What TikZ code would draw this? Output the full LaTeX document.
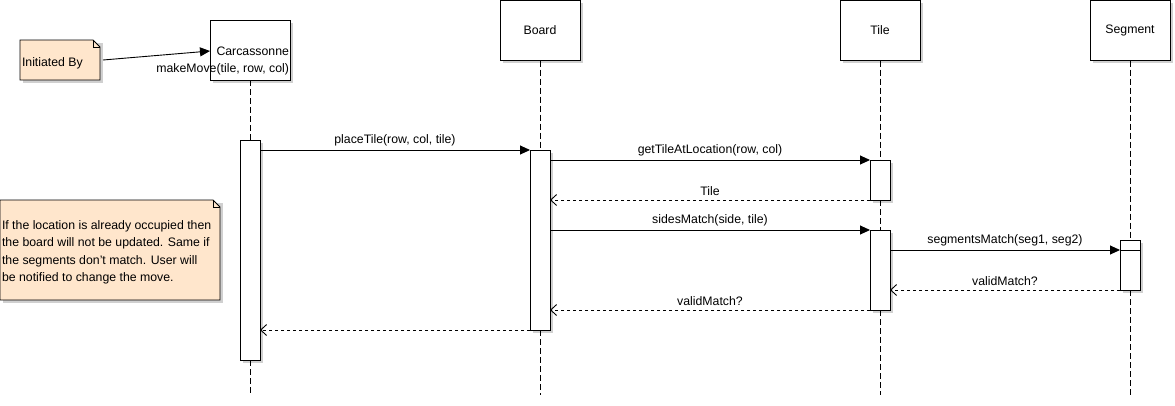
\documentclass[tikz,border=0pt]{standalone}
\usepackage{fontspec}
\setmainfont{Liberation Sans}
\usetikzlibrary{arrows.meta,calc}
\definecolor{notefill}{HTML}{FFE6CC}
\definecolor{shadowgray}{HTML}{D0D0D0}
\tikzset{
  every node/.style={font=\fontsize{12.3}{14}\selectfont, inner sep=0pt, outer sep=0pt},
  head/.style={draw=black, fill=white, line width=0.9pt, minimum width=80pt, minimum height=60pt, inner sep=0pt},
  act/.style={draw=black, fill=white, line width=0.9pt, minimum width=20pt, inner sep=0pt},
  shade/.style={fill=shadowgray, draw=none},
  lifeline/.style={line width=0.9pt, dash pattern=on 6pt off 3pt},
  callmsg/.style={line width=0.9pt, -{Triangle[length=10pt,width=9pt]}},
  retmsg/.style={line width=0.9pt, dash pattern=on 3pt off 3pt, -{Straight Barb[length=6pt,width=11pt,line width=0.9pt]}},
  lbl/.style={above=4pt},
  notebox/.style={fill=notefill, draw=black, line width=0.9pt},
}
\begin{document}
\begin{tikzpicture}[x=1pt,y=-1pt]
\useasboundingbox (0,0) rectangle (1175,405);

% ---------- header boxes (with shadows) ----------
\fill[shade] (213,23) rectangle (293,83);
\fill[shade] (503,3) rectangle (583,63);
\fill[shade] (843,3) rectangle (923,63);
\fill[shade] (1093,3) rectangle (1173,63);
\node[head] (hC) at (250,50) {};
\node[head] (hB) at (540,30.5) {Board};
\node[head] (hT) at (880,30.5) {Tile};
\node[head] (hS) at (1130,30.5) {Segment};
\node[align=right, anchor=base east, font=\fontsize{12.3}{17}\selectfont] (hCtext) at (289,72.5) {Carcassonne\\makeMove(tile, row, col)};

% ---------- activation shadows ----------
\fill[shade] (243,143) rectangle (263,363);
\fill[shade] (533,153) rectangle (553,333);
\fill[shade] (873,163) rectangle (893,203);
\fill[shade] (873,233) rectangle (893,313);
\fill[shade] (1123,243) rectangle (1143,293);

% ---------- lifelines ----------
\coordinate (endC) at (250,395);
\coordinate (endB) at (540,395);
\coordinate (endT) at (880,395);
\coordinate (endS) at (1130,395);

% ---------- activations ----------
\node[act, minimum height=220pt] (aC) at (250,250) {};
\node[act, minimum height=180pt] (aB) at (540,240) {};
\node[act, minimum height=40pt] (aT1) at (880,180) {};
\node[act, minimum height=80pt] (aT2) at (880,270) {};
\node[act, minimum height=50pt] (aS) at (1130,265) {};

\draw[lifeline] (hC.south) -- (aC.north);
\draw[lifeline] (aC.south) -- (endC);
\draw[lifeline] (hB.south) -- (aB.north);
\draw[lifeline] (aB.south) -- (endB);
\draw[lifeline] (hT.south) -- (aT1.north);
\draw[lifeline] (aT1.south) -- (aT2.north);
\draw[lifeline] (aT2.south) -- (endT);
\draw[lifeline] (hS.south) -- (aS.north);
\draw[lifeline] (aS.south) -- (endS);

% ---------- messages ----------
\draw[callmsg] ($(aC.north east)+(0,10)$) -- node[lbl] (l1) {placeTile(row, col, tile)} ($(aB.north west)$);
\draw[callmsg] ($(aB.north east)+(0,10)$) -- node[lbl] (l2) {getTileAtLocation(row, col)} (aT1.north west);
\draw[retmsg] (aT1.south west) -- node[lbl] (l3) {Tile} ($(aB.north east)+(0,50)$);
\draw[callmsg] ($(aB.north east)+(0,80)$) -- node[lbl] (l4) {sidesMatch(side, tile)} (aT2.north west);
\draw[callmsg] ($(aT2.north east)+(0,20)$) -- node[lbl] (l5) {segmentsMatch(seg1, seg2)} ($(aS.north west)+(0,10)$);
\draw[line width=0.9pt] ($(aS.north west)+(0,10)$) -- ($(aS.north east)+(0,10)$);
\draw[retmsg] (aS.south west) -- node[lbl] (l6) {validMatch?} ($(aT2.north east)+(0,60)$);
\draw[retmsg] (aT2.south west) -- node[lbl] (l7) {validMatch?} ($(aB.north east)+(0,160)$);
\draw[retmsg] (aB.south west) -- ($(aC.north east)+(0,190)$);

% ---------- notes ----------
\fill[shade] (23,43) rectangle (103,83);
\draw[notebox] (20,40) -- (93,40) -- (100,47) -- (100,80) -- (20,80) -- cycle;
\draw[line width=0.9pt] (93,40) -- (93,47) -- (100,47);
\node[anchor=base west] (n1) at (22,66.5) {Initiated By};
\coordinate (n1out) at (103,60);
\draw[callmsg] (n1out) -- (hC.west |- 0,51);

\fill[shade] (3,203) rectangle (223,303);
\draw[notebox] (0,200) -- (213,200) -- (220,207) -- (220,300) -- (0,300) -- cycle;
\draw[line width=0.9pt] (213,200) -- (213,207) -- (220,207);
\node[anchor=base west, align=left, font=\fontsize{12.3}{17.3}\selectfont] (n2) at (2,281.4) {If the location is already occupied then\\the board will not be updated. Same if\\the segments don't match. User will\\be notified to change the move.};
\end{tikzpicture}
\end{document}
